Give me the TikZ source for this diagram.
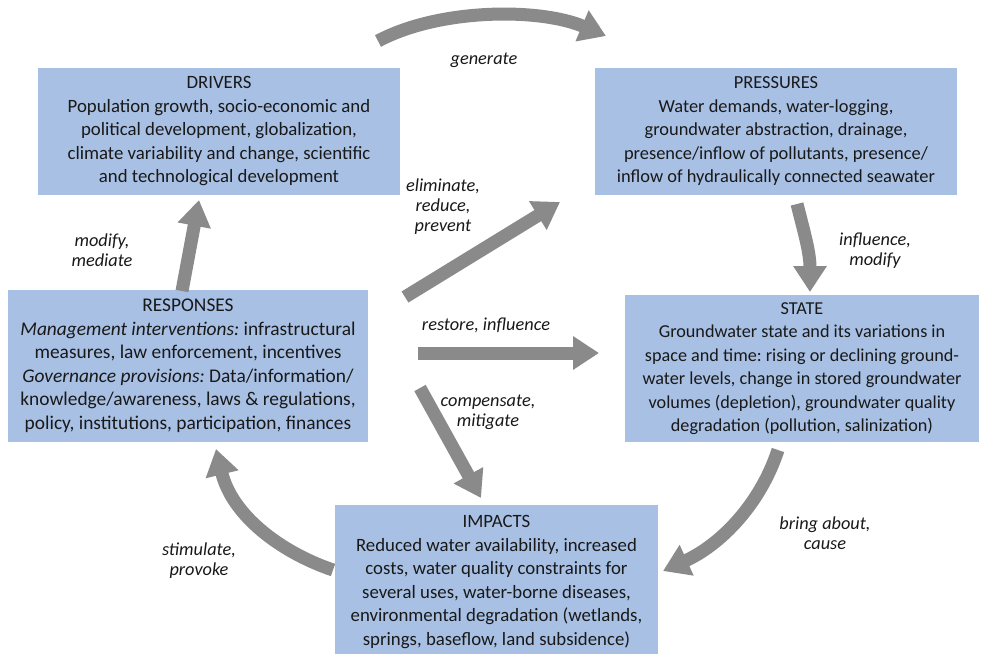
\documentclass[tikz,border=0pt]{standalone}
\usepackage{fontspec}
\setmainfont{Carlito}
\frenchspacing
\usetikzlibrary{arrows.meta}
\definecolor{boxblue}{RGB}{168,192,228}
\definecolor{flowgray}{RGB}{138,138,138}
\definecolor{ink}{RGB}{25,25,25}
\begin{document}
\begin{tikzpicture}[x=1pt,y=-1pt,
  stagebox/.style={rectangle, fill=boxblue, inner sep=0pt, align=center, text=ink},
  flow/.style={draw=flowgray, line width=13pt, -{Triangle[width=32pt,length=26pt]}},
  verb/.style={align=center, text=ink, inner sep=0pt, font=\fontsize{18.3}{20}\selectfont\itshape}]
\useasboundingbox (0,0) rectangle (982,653);
\fill[white] (0,0) rectangle (982,653);

% the five DPSIR stages
\node[stagebox, minimum width=362pt, minimum height=127pt, font=\fontsize{18.8}{23.5}\selectfont] (drivers) at (219,131.5)
  {DRIVERS\\Population growth, socio-economic and\\political development, globalization,\\climate variability and change, scientific\\and technological development};
\node[stagebox, minimum width=362pt, minimum height=127pt, font=\fontsize{18.4}{23.5}\selectfont] (pressures) at (776,131.5)
  {PRESSURES\\Water demands, water-logging,\\groundwater abstraction, drainage,\\presence/inflow of pollutants, presence/\\inflow of hydraulically connected seawater};
\node[stagebox, minimum width=360pt, minimum height=152pt, font=\fontsize{19.4}{23.5}\selectfont] (responses) at (188,366)
  {RESPONSES\\\textit{Management interventions:} infrastructural\\measures, law enforcement, incentives\\\textit{Governance provisions:} Data/information/\\knowledge/awareness, laws \& regulations,\\policy, institutions, participation, finances};
\node[stagebox, minimum width=354pt, minimum height=147pt, font=\fontsize{18.2}{23.5}\selectfont] (state) at (802,368.5)
  {STATE\\Groundwater state and its variations in\\space and time: rising or declining ground-\\water levels, change in stored groundwater\\volumes (depletion), groundwater quality\\degradation (pollution, salinization)};
\node[stagebox, minimum width=323pt, minimum height=154pt, font=\fontsize{18.8}{23.5}\selectfont] (impacts) at (496.5,582)
  {IMPACTS\\Reduced water availability, increased\\costs, water quality constraints for\\several uses, water-borne diseases,\\environmental degradation (wetlands,\\springs, baseflow, land subsidence)};

% arrow end points
\coordinate (gen0) at (378,41);
\coordinate (gen1) at (606,36);
\coordinate (mod0) at (182,291);
\coordinate (mod1) at (199,200);
\coordinate (eli0) at (405,297);
\coordinate (eli1) at (560,202);
\coordinate (inf0) at (797,204);
\coordinate (inf1) at (810,292);
\coordinate (res0) at (418,353);
\coordinate (res1) at (599,353);
\coordinate (com0) at (420,388);
\coordinate (com1) at (481,498);
\coordinate (bri0) at (778,450);
\coordinate (bri1) at (663,571);
\coordinate (sti0) at (333,570);
\coordinate (sti1) at (216,449);

% causal links
\draw[flow] (gen0) .. controls (440,8) and (540,8) .. (gen1);
\draw[flow] (mod0) -- (mod1);
\draw[flow] (eli0) -- (eli1);
\draw[flow] (inf0) .. controls (804,232) and (810,252) .. (inf1);
\draw[flow] (res0) -- (res1);
\draw[flow] (com0) -- (com1);
\draw[flow] (bri0) .. controls (760,505) and (720,545) .. (bri1);
\draw[flow] (sti0) .. controls (280,552) and (232,515) .. (sti1);

% link labels
\node[verb] (lgen) at (484,60) {generate};
\node[verb] (lmod) at (102,250) {modify,\\mediate};
\node[verb] (leli) at (443,207) {eliminate,\\reduce,\\prevent};
\node[verb] (linf) at (875,251) {influence,\\modify};
\node[verb] (lres) at (486,325) {restore, influence};
\node[verb] (lcom) at (488,412) {compensate,\\mitigate};
\node[verb] (lbri) at (825,533) {bring about,\\cause};
\node[verb] (lsti) at (199,561) {stimulate,\\provoke};
\end{tikzpicture}
\end{document}
